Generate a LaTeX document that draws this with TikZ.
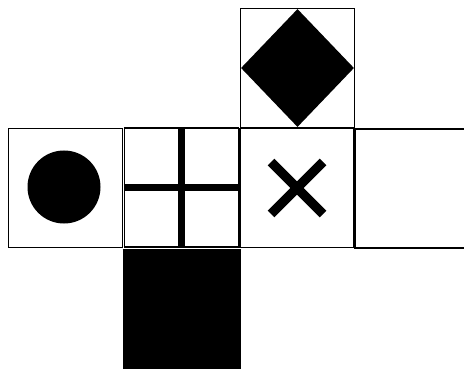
\documentclass[tikz,border=0pt]{standalone}
\usepackage{tikz}
\usetikzlibrary{shapes.geometric,calc}

\begin{document}
\begin{tikzpicture}[
  x=1pt, y=-1pt,
  cell/.style={rectangle, draw=black, line width=1.4pt, fill=white,
    minimum width=114pt, minimum height=119pt, inner sep=0pt},
  solid cell/.style={cell, fill=black},
  bar/.style={line width=7pt, draw=black},
  slash/.style={line width=9.5pt, draw=black}
]
\useasboundingbox (0,0) rectangle (464,369);

\node[cell] (top)   at (297.5, 68)  {};
\node[cell] (round) at (65.5, 188)  {};
\node[cell] (plus)  at (181.5,187.5) {};
\node[cell] (times) at (297, 188)   {};
\node[cell] (blank) at (412, 188.5) {};
\node[solid cell, minimum width=116pt, minimum height=121pt] (base) at (182, 310.5) {};

\node[diamond, fill=black, inner sep=0pt, minimum width=113pt, minimum height=118pt]
  (rhomb) at (top.center) {};
\node[circle, fill=black, inner sep=0pt, minimum size=73pt] (disc) at (64, 187) {};

\draw[bar] (plus.north) -- (plus.south);
\draw[bar] (plus.west) -- (plus.east);

\draw[slash] ($(times.center)+(-26,-26)$) -- ($(times.center)+(26,26)$);
\draw[slash] ($(times.center)+(-26,26)$) -- ($(times.center)+(26,-26)$);

\end{tikzpicture}
\end{document}
